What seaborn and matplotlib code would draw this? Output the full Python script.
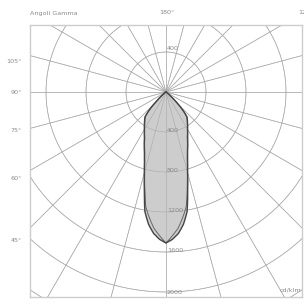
"""
Photometric polar diagram (Angoli Gamma) redrawn with seaborn.
"""

# imports
import numpy as np
import pandas as pd
import seaborn as sns
import matplotlib
matplotlib.use('Agg')
import matplotlib.pyplot as plt

# gamma angles (deg, 0 = nadir) and intensities in cd/klm
gamma = [0, 2.5, 5, 7.5, 10, 12.5, 15, 17.5, 20, 25, 30, 35, 40, 42.5,
         45, 47.5, 50, 55, 60, 70, 80, 90, 180]
plane_c0 = [1510, 1475, 1420, 1335, 1215, 1000, 835, 715, 630, 510, 432,
            375, 328, 262, 170, 95, 52, 20, 8, 3, 0, 0, 0]
plane_c90 = [1510, 1440, 1370, 1270, 1165, 980, 820, 705, 620, 500, 425,
             370, 322, 255, 165, 92, 50, 20, 8, 3, 0, 0, 0]

ring_values = [400, 800, 1200, 1600, 2000, 2400]
ring_labels = ['400', '800', '1200', '1600', '2000']
side_labels = ['105°', '90°', '75°', '60°', '45°']
side_label_y = [305, -10, -390, -870, -1490]


def to_xy(angles, values):
    # fine resampling so the curve is smooth, both half planes
    g = np.linspace(0, 180, 721)
    r = np.interp(g, angles, values)
    t = np.radians(g)
    left = pd.DataFrame({'x': -r * np.sin(t), 'y': -r * np.cos(t)})
    right = pd.DataFrame({'x': r * np.sin(t), 'y': -r * np.cos(t)})
    return pd.concat([left[::-1], right], ignore_index=True)


def draw_grid(ax, col, lw, z):
    t = np.linspace(0, 2 * np.pi, 400)
    for rv in ring_values:
        ax.plot(rv * np.cos(t), rv * np.sin(t), color=col, lw=lw, zorder=z)
    # radial lines every 15 degrees
    for a in range(0, 360, 15):
        ar = np.radians(a)
        ax.plot([0, 3000 * np.sin(ar)], [0, -3000 * np.cos(ar)],
                color=col, lw=lw, zorder=z)


sns.set_style('white')
plt.rcParams['font.family'] = ['DejaVu Sans']

fig = plt.figure(figsize=(3.04, 3.04), dpi=100)
ax = fig.add_axes([30 / 304, 7 / 304, 272 / 304, 272 / 304])
ax.set_xlim(-1360, 1360)
ax.set_ylim(-2050, 670)

draw_grid(ax, '#bdbdbd', 0.5, 1)

# curves
outer = to_xy(gamma, plane_c0)
inner = to_xy(gamma, plane_c90)
ax.fill(outer['x'], outer['y'], color='#cdcdcd', zorder=2, lw=0)
# grid shows through the fill in the original
draw_grid(ax, '#a8a8a8', 0.4, 2.5)
sns.lineplot(data=inner, x='x', y='y', sort=False, estimator=None,
             color='#666666', lw=0.7, ax=ax, zorder=3)
sns.lineplot(data=outer, x='x', y='y', sort=False, estimator=None,
             color='#444444', lw=1.0, ax=ax, zorder=4)

# texts
txt = dict(fontsize=4.6, color='#8a8a8a')
ax.text(-1360, 790, 'Angoli Gamma', ha='left', va='center', clip_on=False,
        **txt)
ax.text(10, 790, '180°', ha='center', va='center', clip_on=False, **txt)
ax.text(1320, 790, '120°', ha='left', va='center', clip_on=False, **txt)
for lab, yy in zip(side_labels, side_label_y):
    ax.text(-1440, yy, lab, ha='right', va='center', clip_on=False, **txt)
ax.text(10, 440, '400', ha='left', va='center', zorder=5, **txt)
for lab in ring_labels:
    rv = int(lab)
    yy = -2000 if rv == 2000 else -(rv - 15)
    ax.text(10, yy, lab, ha='left', va='center', zorder=5, **txt)
ax.text(1355, -1985, 'cd/klm', ha='right', va='center', zorder=5, **txt)

ax.set_xticks([])
ax.set_yticks([])
ax.set_xlabel('')
ax.set_ylabel('')
for s in ax.spines.values():
    s.set_color('#cccccc')
    s.set_linewidth(1.0)

fig.savefig('out.png', dpi=100)
